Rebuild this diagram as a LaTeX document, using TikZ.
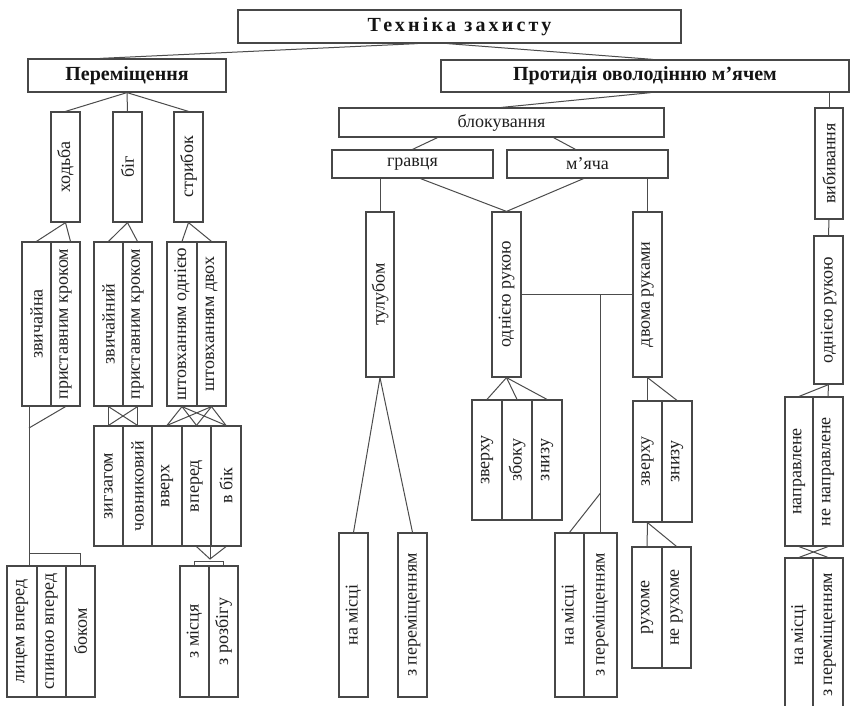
\documentclass[tikz,border=0pt]{standalone}
\usepackage{fontspec}
\setmainfont{Liberation Serif}
\usetikzlibrary{fit,calc}

\tikzset{
  boxst/.style={draw=black!72, line width=1.2pt, inner sep=0pt},
  vtext/.style={rotate=90, font=\fontsize{18}{20}\selectfont, text=black!88, inner sep=0pt},
  htext/.style={font=\fontsize{18}{20}\selectfont, text=black!88, inner sep=0pt},
  headtext/.style={font=\bfseries\fontsize{20}{22}\selectfont, text=black!92, inner sep=0pt},
  link/.style={draw=black!70, line width=1pt},
}

% box with vertical (bottom-to-top) label: name, x1, y1, x2, y2, text
\newcommand\vbx[6]{%
  \node[boxst, fit={(#2,#3) (#4,#5)}] (#1) {};
  \node[vtext] (#1-t) at (#1.center) {#6};}
% box with horizontal label
\newcommand\hbx[7]{%
  \node[boxst, fit={(#2,#3) (#4,#5)}] (#1) {};
  \node[#7] (#1-t) at (#1.center) {#6};}

\begin{document}
\begin{tikzpicture}[x=1pt, y=-1pt]
\fill[white] (0,0) rectangle (853,705);
\useasboundingbox (0,0) rectangle (853,705);

% ---- headings
\hbx{title}{238}{10}{681}{43}{\addfontfeature{LetterSpace=16}Техніка захисту}{headtext}
\hbx{per}{28}{59}{226}{92}{Переміщення}{headtext}
\hbx{prot}{441}{60}{849}{92}{Протидія оволодінню м’ячем}{headtext}

% ---- movements
\vbx{hod}{51}{112}{80}{222}{ходьба}
\vbx{big}{113}{112}{142}{222}{біг}
\vbx{str}{174}{112}{203}{222}{стрибок}

\vbx{zv1}{22}{242}{51}{406}{звичайна}
\vbx{pr1}{51}{242}{80}{406}{приставним кроком}
\vbx{zv2}{94}{242}{123}{406}{звичайний}
\vbx{pr2}{123}{242}{152}{406}{приставним кроком}
\vbx{sh1}{167}{242}{197}{406}{штовханням однією}
\vbx{sh2}{197}{242}{226}{406}{штовханням двох}

\vbx{zig}{94}{426}{123}{546}{зигзагом}
\vbx{chov}{123}{426}{152}{546}{човниковий}
\vbx{vvr}{152}{426}{182}{546}{вверх}
\vbx{vper}{182}{426}{211}{546}{вперед}
\vbx{vbik}{211}{426}{241}{546}{в бік}

\vbx{lic}{7}{566}{37}{697}{лицем вперед}
\vbx{spy}{37}{566}{66}{697}{спиною вперед}
\vbx{bok}{66}{566}{95}{697}{боком}
\vbx{zm}{180}{566}{209}{697}{з місця}
\vbx{zr}{209}{566}{238}{697}{з розбігу}

% ---- blocking
\hbx{blok}{339}{108}{664}{137}{блокування}{htext}
\hbx{grav}{332}{150}{493}{178}{гравця}{htext}
\hbx{myach}{507}{150}{668}{178}{м’яча}{htext}

\vbx{tul}{366}{212}{394}{377}{тулубом}
\vbx{on1}{492}{212}{521}{377}{однією рукою}
\vbx{dv}{633}{212}{662}{377}{двома руками}

\vbx{zv3}{472}{400}{502}{520}{зверху}
\vbx{zb}{502}{400}{532}{520}{збоку}
\vbx{zn1}{532}{400}{562}{520}{знизу}
\vbx{zv4}{633}{401}{662}{522}{зверху}
\vbx{zn2}{662}{401}{692}{522}{знизу}

\vbx{nm1}{339}{533}{368}{697}{на місці}
\vbx{zp1}{398}{533}{427}{697}{з переміщенням}
\vbx{nm2}{555}{533}{584}{697}{на місці}
\vbx{zp2}{584}{533}{617}{697}{з переміщенням}
\vbx{ruh}{632}{547}{662}{668}{рухоме}
\vbx{neruh}{662}{547}{691}{668}{не рухоме}

% ---- knocking out
\vbx{vyb}{815}{108}{843}{219}{вибивання}
\vbx{on2}{814}{236}{843}{384}{однією рукою}
\vbx{napr}{785}{397}{813}{546}{направлене}
\vbx{nenapr}{813}{397}{843}{546}{не направлене}
\vbx{nm3}{785}{558}{813}{712}{на місці}
\vbx{zp3}{813}{558}{843}{712}{з переміщенням}

% ---- connectors: headings
\draw[link] ([xshift=-42pt]title.south) -- ([xshift=-27pt]per.north);
\draw[link] ([xshift=-12pt]title.south) -- ([xshift=8pt]prot.north);

% movements
\draw[link] (per.south) -- (hod.north);
\draw[link] (per.south) -- (big.north);
\draw[link] (per.south) -- (str.north);
\draw[link] (hod.south) -- (zv1.north);
\draw[link] (hod.south) -- ([xshift=5pt]pr1.north);
\draw[link] (big.south) -- (zv2.north);
\draw[link] (big.south) -- (pr2.north);
\draw[link] (str.south) -- (sh1.north);
\draw[link] (str.south) -- (sh2.north);

\coordinate (wj) at (29,428);
\coordinate (wk) at (29,553);
\draw[link] (zv1.south -| wj) -- (lic.north -| wj);
\draw[link] (pr1.south) -- (wj);
\draw[link] (wk) -| (bok.north);

\draw[link] (zv2.south) -- (zig.north);
\draw[link] (pr2.south) -- (chov.north);
\draw[link] (zv2.south) -- (chov.north);
\draw[link] (pr2.south) -- (zig.north);

\foreach \a in {sh1,sh2}
  \foreach \b in {vvr,vper,vbik}
    \draw[link] (\a.south) -- (\b.north);

\coordinate (jj) at (210,559);
\coordinate (jb) at (210,561);
\draw[link] (vper.south) -- (jj) -- (vbik.south);
\draw[link] (jj) -- (jj |- vper.south);
\draw[link] (zm.north) |- (jb) -| (zr.north);

% blocking
\draw[link] ([xshift=6pt]prot.south) -- (blok.north);
\draw[link] ([xshift=-64pt]blok.south) -- (grav.north);
\draw[link] ([xshift=52pt]blok.south) -- ([xshift=-12pt]myach.north);
\draw[link] (tul.north |- grav.south) -- (tul.north);
\draw[link] ([xshift=8pt]grav.south) -- (on1.north) -- ([xshift=-4pt]myach.south);
\draw[link] (dv.north |- myach.south) -- (dv.north);
\draw[link] (on1.east) -- (dv.west);
\draw[link] (on1.east -| zp2.north) -- (zp2.north);
\draw[link] (zp2.north |- 0,493) -- (nm2.north);
\draw[link] (tul.south) -- (nm1.north);
\draw[link] (tul.south) -- (zp1.north);
\draw[link] (on1.south) -- (zv3.north);
\draw[link] (on1.south) -- (zb.north);
\draw[link] (on1.south) -- (zn1.north);
\draw[link] (dv.south) -- (zv4.north);
\draw[link] (dv.south) -- (zn2.north);
\draw[link] (zv4.south) -- (ruh.north);
\draw[link] (zv4.south) -- (neruh.north);

% knocking out
\draw[link] (vyb.north |- prot.south) -- (vyb.north);
\draw[link] (vyb.south) -- (on2.north);
\draw[link] (on2.south) -- (napr.north);
\draw[link] (on2.south) -- (nenapr.north);
\draw[link] (napr.south) -- (zp3.north);
\draw[link] (nenapr.south) -- (nm3.north);
\end{tikzpicture}
\end{document}
